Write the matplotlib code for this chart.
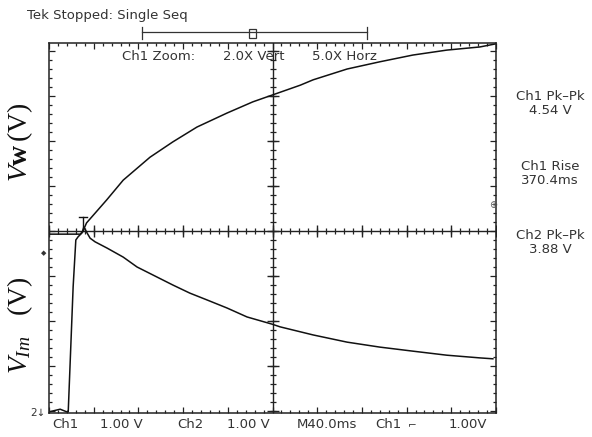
import numpy as np
import matplotlib
matplotlib.use("Agg")
import matplotlib.pyplot as plt
from matplotlib.patches import Rectangle
from matplotlib.lines import Line2D

plt.rcParams['mathtext.fontset'] = 'custom'
plt.rcParams['mathtext.rm'] = 'Liberation Serif'
plt.rcParams['mathtext.it'] = 'Liberation Serif:italic'
plt.rcParams['mathtext.bf'] = 'Liberation Serif:bold'

# ---- data (screen divisions) ----
ch1_x = [0.0, 0.7, 0.76, 0.84, 1.29, 1.66, 2.26, 2.77, 3.31, 3.98, 4.56, 4.99,
         5.62, 5.91, 6.67, 7.40, 8.14, 8.90, 9.64, 10.0]
ch1_y = [-0.07, -0.07, 0.0, 0.18, 0.69, 1.13, 1.64, 1.98, 2.31, 2.62, 2.87, 3.02,
         3.24, 3.36, 3.60, 3.76, 3.91, 4.02, 4.09, 4.16]

ch2_x = [0.0, 0.25, 0.40, 0.43, 0.54, 0.60, 0.65, 0.74, 0.78, 0.85, 0.92, 1.03,
         1.30, 1.66, 1.97, 2.33, 2.77, 3.15, 3.53, 3.98, 4.43, 4.99, 5.17,
         5.91, 6.67, 7.40, 8.14, 8.90, 9.64, 9.93]
ch2_y = [-4.02, -3.96, -4.02, -4.02, -1.24, -0.20, -0.13, -0.04, 0.09, -0.04, -0.16, -0.24,
         -0.38, -0.58, -0.80, -0.98, -1.20, -1.38, -1.53, -1.71, -1.91, -2.07, -2.13,
         -2.31, -2.47, -2.58, -2.67, -2.76, -2.82, -2.84]

top_title = "Tek Stopped: Single Seq"
zoom_labels = ["Ch1 Zoom:", "2.0X Vert", "5.0X Horz"]
right_labels = ["Ch1 Pk\u2013Pk", "4.54 V", "Ch1 Rise", "370.4ms", "Ch2 Pk\u2013Pk", "3.88 V"]
bottom_labels = ["Ch1", "1.00 V", "Ch2", "1.00 V", "M40.0ms", "Ch1", "1.00V"]

W, H = 592, 437
fig = plt.figure(figsize=(W / 100, H / 100), dpi=100)

def fx(px):
    return px / W

def fy(py):
    return 1 - py / H

L, R, T, B = 49, 496, 43, 413
ax = fig.add_axes([fx(L), fy(B), (R - L) / W, (B - T) / H])
ax.set_xlim(0, 10)
ax.set_ylim(-(B - 231) / 45, (231 - T) / 45)

for s in ax.spines.values():
    s.set_linewidth(1.1)
    s.set_color('#222222')

ax.set_xticks(np.arange(0, 10.01, 1))
ax.set_xticks(np.arange(0, 10.01, 0.2), minor=True)
ax.set_yticks(np.arange(-4, 4.01, 1))
ax.set_yticks(np.arange(-4, 4.19, 0.2), minor=True)
ax.tick_params(which='both', direction='in', top=True, right=True,
               labelbottom=False, labelleft=False, color='#222222', width=0.9)
ax.tick_params(which='major', length=4.5)
ax.tick_params(which='minor', length=2.5)

# center crosshair
ax.axhline(0, color='#222222', lw=1.0)
ax.axvline(5, color='#222222', lw=1.0)
mx = np.arange(0, 10.01, 0.2)
my = np.arange(-4, 4.19, 0.2)
ax.plot(mx, np.zeros_like(mx), linestyle='none', marker='|', ms=5, mew=0.9, color='#222222')
ax.plot(np.arange(0, 11), np.zeros(11), linestyle='none', marker='|', ms=9, mew=1.0, color='#222222')
ax.plot(np.full_like(my, 5), my, linestyle='none', marker='_', ms=5, mew=0.9, color='#222222')
ax.plot(np.full(9, 5), np.arange(-4, 5), linestyle='none', marker='_', ms=9, mew=1.0, color='#222222')

# traces
ax.plot(ch1_x, ch1_y, color='#111111', lw=1.1)
ax.plot(ch2_x, ch2_y, color='#111111', lw=1.1)

# trigger marker (I-beam) at the ch1 start
ax.plot([0.76, 0.76], [0, 0.32], color='#111111', lw=1.0)
ax.plot([0.68, 0.84], [0.32, 0.32], color='#111111', lw=1.0)

# small markers outside the screen
fig.text(fx(44), fy(253), "\u25c6", fontsize=5, ha='center', va='center', color='#333333')
fig.text(fx(38), fy(413), "2\u2193", fontsize=7.5, ha='center', va='center', color='#333333')
fig.text(fx(493), fy(205), "\u2295", fontsize=7, ha='center', va='center', color='#555555')

txt = dict(fontsize=9.5, color='#333333', family='DejaVu Sans')

# top status
fig.text(fx(27), fy(16), top_title, ha='left', va='center', **txt)
fig.add_artist(Line2D([fx(142), fx(367)], [fy(32), fy(32)], lw=0.9, color='#333333'))
fig.add_artist(Line2D([fx(142), fx(142)], [fy(27), fy(39)], lw=0.9, color='#333333'))
fig.add_artist(Line2D([fx(367), fx(367)], [fy(27), fy(39)], lw=0.9, color='#333333'))
fig.add_artist(Rectangle((fx(249), fy(38)), (256 - 249) / W, 9 / H, fill=False, lw=0.9,
                         edgecolor='#333333', transform=fig.transFigure))

fig.text(fx(122), fy(57), zoom_labels[0], ha='left', va='center', **txt)
fig.text(fx(223), fy(57), zoom_labels[1], ha='left', va='center', **txt)
fig.text(fx(312), fy(57), zoom_labels[2], ha='left', va='center', **txt)

# right measurements
ry = [97, 111, 166, 180, 235, 249]
for lab, yy in zip(right_labels, ry):
    fig.text(fx(550), fy(yy), lab, ha='center', va='center', **txt)

# bottom readout
bx = [52, 100, 177, 227, 297, 375, 449]
for lab, xx in zip(bottom_labels, bx):
    fig.text(fx(xx), fy(425), lab, ha='left', va='center', **txt)
fig.text(fx(408), fy(424), "\u2310", ha='left', va='center', fontsize=7.5, color='#333333')

# left axis labels
fig.text(fx(20), fy(142), r"$\mathit{V}\mathbf{w}\,\mathrm{(V)}$", rotation=90,
         ha='center', va='center', fontsize=20, color='#111111')
fig.text(fx(20), fy(325), r"$V_{Im}\ \ \ \mathrm{(V)}$", rotation=90,
         ha='center', va='center', fontsize=20, color='#111111')

fig.savefig("out.png", dpi=100)
